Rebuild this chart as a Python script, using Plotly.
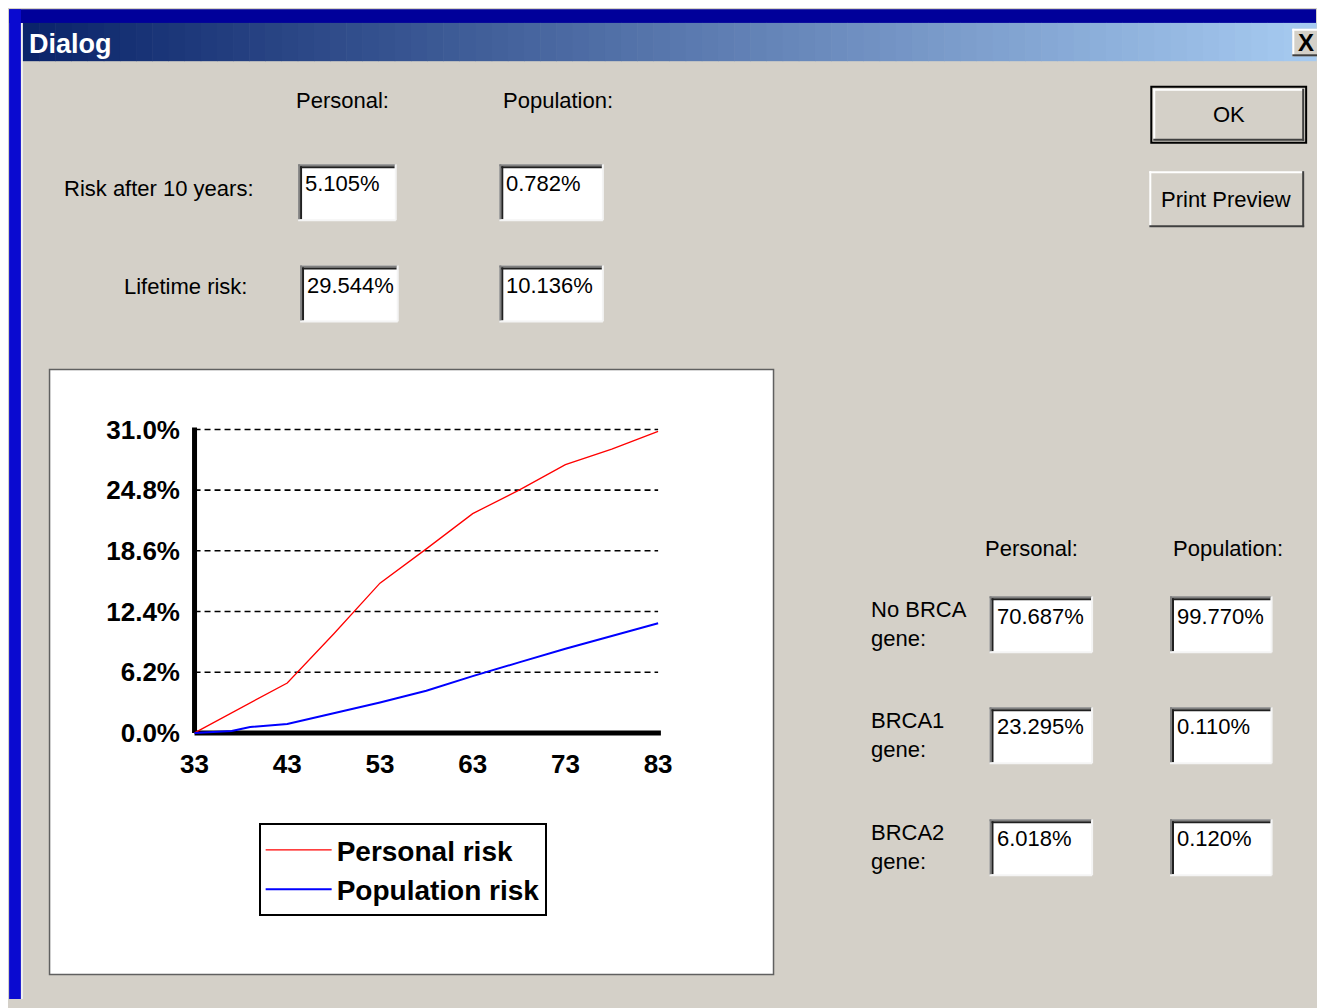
import plotly.graph_objects as go

# ---------------- data ----------------
ages_personal = [33, 43, 48, 53, 58, 63, 68, 73, 78, 83]
personal_risk = [0.0, 5.1, 10.1, 15.3, 18.8, 22.4, 24.8, 27.4, 29.0, 30.8]

ages_population = [33, 37, 39, 43, 48, 53, 58, 63, 68, 73, 78, 83]
population_risk = [0.0, 0.2, 0.6, 0.9, 2.0, 3.1, 4.3, 5.8, 7.2, 8.6, 9.9, 11.2]

x_ticks = [33, 43, 53, 63, 73, 83]
y_ticks = [0.0, 6.2, 12.4, 18.6, 24.8, 31.0]
y_tick_labels = ["0.0%", "6.2%", "12.4%", "18.6%", "24.8%", "31.0%"]

series_names = ["Personal risk", "Population risk"]
series_colors = ["#ff0000", "#0000ff"]

summary_headers = ["Personal:", "Population:"]
summary_rows = ["Risk after 10 years:", "Lifetime risk:"]
summary_personal = ["5.105%", "29.544%"]
summary_population = ["0.782%", "10.136%"]

gene_headers = ["Personal:", "Population:"]
gene_rows = ["No BRCA<br>gene:", "BRCA1<br>gene:", "BRCA2<br>gene:"]
gene_personal = ["70.687%", "23.295%", "6.018%"]
gene_population = ["99.770%", "0.110%", "0.120%"]

button_labels = ["OK", "Print Preview"]
window_title = "Dialog"

# ---------------- helpers ----------------
# The page body keeps the browser's default 8px margin, so the figure starts
# 8px in and fills the rest of the 1325x1008 window.
PAGE_W, PAGE_H = 1325, 1008
OFF = 8
W, H = PAGE_W - OFF, PAGE_H - OFF
FACE = "#d4d0c8"
SANS = "Liberation Sans, Arial, sans-serif"


def px(x):
    return (x - OFF) / W


def py(y):
    return 1 - (y - OFF) / H


shapes = []
annotations = []


def rect(x0, y0, x1, y1, fill, line=None, lw=0):
    shapes.append(dict(type="rect", xref="paper", yref="paper",
                       x0=px(x0), x1=px(x1), y0=py(y1), y1=py(y0),
                       fillcolor=fill, line=dict(color=line or fill, width=lw),
                       layer="below"))


def seg(x0, y0, x1, y1, color, w):
    shapes.append(dict(type="line", xref="paper", yref="paper",
                       x0=px(x0), x1=px(x1), y0=py(y0), y1=py(y1),
                       line=dict(color=color, width=w), layer="below"))


def text(t, x, y, size=22, anchor="left", family=SANS, color="black", weight="normal"):
    annotations.append(dict(text=t, x=px(x), y=py(y), xref="paper", yref="paper",
                            xanchor=anchor, yanchor="middle", showarrow=False,
                            align="left",
                            font=dict(family=family, size=size, color=color, weight=weight)))


def sunken(x0, y0, x1, y1):
    rect(x0, y0, x1, y1, "white")
    seg(x0, y0 + 1, x1, y0 + 1, "#808080", 2)
    seg(x0 + 1, y0, x0 + 1, y1, "#808080", 2)
    seg(x0 + 2, y0 + 3, x1 - 1, y0 + 3, "#202020", 2)
    seg(x0 + 3, y0 + 2, x0 + 3, y1 - 1, "#202020", 2)
    seg(x0, y1, x1, y1, "#f4f4f4", 2)
    seg(x1, y0, x1, y1, "#f4f4f4", 2)


def raised(x0, y0, x1, y1, default=False):
    rect(x0, y0, x1, y1, FACE)
    if default:
        rect(x0, y0, x1, y1, FACE, "#000000", 2)
        x0, y0, x1, y1 = x0 + 2, y0 + 2, x1 - 2, y1 - 2
    seg(x0, y0 + 1, x1, y0 + 1, "white", 2)
    seg(x0 + 1, y0, x0 + 1, y1, "white", 2)
    seg(x0, y1 - 1, x1, y1 - 1, "#404040", 2)
    seg(x1 - 1, y0, x1 - 1, y1, "#404040", 2)


# ---------------- window chrome ----------------
rect(0, 0, PAGE_W, 14, "#00009a")
rect(0, 0, 12, PAGE_H, "#0a0ad0")
seg(13, 14, 13, PAGE_H, "#f0f0f0", 2)

n_strips = 80
c0 = (10, 36, 106)
c1 = (166, 202, 240)
x_start, x_end = 14, PAGE_W
for i in range(n_strips):
    t = i / (n_strips - 1)
    c = tuple(int(round(c0[k] + (c1[k] - c0[k]) * t)) for k in range(3))
    xa = x_start + (x_end - x_start) * i / n_strips
    xb = x_start + (x_end - x_start) * (i + 1) / n_strips + 0.6
    rect(xa, 14, xb, 53, "rgb(%d,%d,%d)" % c)
text(window_title, 18, 35, size=27, color="white", weight="bold")

raised(1301, 20, 1330, 48)
text("X", 1315, 34, size=24, anchor="center", weight="bold")

# ---------------- top summary ----------------
text(summary_headers[0], 338, 93, anchor="center")
text(summary_headers[1], 556, 93, anchor="center")
row_y = [183, 282]
box_y = [(158, 215), (261, 318)]
pers_x = [(293, 392), (295, 394)]
pop_x = [(497, 602), (497, 602)]
label_right = [250, 243]
for i, lab in enumerate(summary_rows):
    text(lab, label_right[i], row_y[i], anchor="right")
    sunken(pers_x[i][0], box_y[i][0], pers_x[i][1], box_y[i][1])
    sunken(pop_x[i][0], box_y[i][0], pop_x[i][1], box_y[i][1])
    text(summary_personal[i], pers_x[i][0] + 5, box_y[i][0] + 20)
    text(summary_population[i], pop_x[i][0] + 5, box_y[i][0] + 20)

raised(1158, 79, 1315, 136, default=True)
text(button_labels[0], 1237, 107, anchor="center")
raised(1156, 165, 1313, 222)
text(button_labels[1], 1234, 194, anchor="center")

# ---------------- gene panel ----------------
text(gene_headers[0], 1037, 549, anchor="center")
text(gene_headers[1], 1236, 549, anchor="center")
gene_box_y = [(598, 655), (711, 768), (825, 882)]
for i, lab in enumerate(gene_rows):
    y0, y1 = gene_box_y[i]
    text(lab, 872, y0 + 28)
    sunken(994, y0, 1098, y1)
    sunken(1177, y0, 1280, y1)
    text(gene_personal[i], 1000, y0 + 20)
    text(gene_population[i], 1182, y0 + 20)

# ---------------- chart panel ----------------
rect(41, 367, 775, 983, "white", "#606060", 1.5)

X_LEFT, X_RIGHT = 188.0, 658.0      # pixel of age 33 / 83
Y_ZERO, Y_TOP = 737.0, 428.0        # pixel of 0% / 31%
x_pad, y_pad = 0.6, 0.6
xr = [x_ticks[0] - x_pad, x_ticks[-1] + x_pad]
yr = [y_ticks[0] - y_pad, y_ticks[-1] + y_pad]
ppx = (X_RIGHT - X_LEFT) / (x_ticks[-1] - x_ticks[0])
ppy = (Y_ZERO - Y_TOP) / (y_ticks[-1] - y_ticks[0])
dom_x = [px(X_LEFT - x_pad * ppx), px(X_RIGHT + x_pad * ppx)]
dom_y = [py(Y_ZERO + y_pad * ppy), py(Y_TOP - y_pad * ppy)]

# dashed grid and thick axes through the data axes
for v in y_ticks[1:]:
    shapes.append(dict(type="line", xref="x", yref="y", x0=x_ticks[0], x1=x_ticks[-1],
                       y0=v, y1=v, line=dict(color="black", width=1.6, dash="6px,4px"),
                       layer="between"))
shapes.append(dict(type="line", xref="x", yref="y", x0=x_ticks[0], x1=x_ticks[-1] + 0.3,
                   y0=0, y1=0, line=dict(color="black", width=5), layer="between"))
shapes.append(dict(type="line", xref="x", yref="y", x0=x_ticks[0], x1=x_ticks[0],
                   y0=0, y1=y_ticks[-1] + 0.2, line=dict(color="black", width=5),
                   layer="between"))

fig = go.Figure()
fig.add_trace(go.Scatter(x=ages_personal, y=personal_risk, mode="lines",
                         name=series_names[0],
                         line=dict(color=series_colors[0], width=1.3)))
fig.add_trace(go.Scatter(x=ages_population, y=population_risk, mode="lines",
                         name=series_names[1],
                         line=dict(color=series_colors[1], width=2)))

tickfont = dict(family=SANS, size=26, color="black", weight="bold")
fig.update_layout(
    width=W, height=H, autosize=False,
    margin=dict(l=0, r=0, t=0, b=0),
    paper_bgcolor=FACE, plot_bgcolor="white",
    shapes=shapes, annotations=annotations,
    showlegend=True,
    legend=dict(x=px(253), y=py(829), xanchor="left", yanchor="top",
                bgcolor="white", bordercolor="black", borderwidth=2,
                font=dict(family=SANS, size=28, color="black", weight="bold"),
                itemwidth=66, tracegroupgap=0),
    xaxis=dict(domain=dom_x, range=xr, tickvals=x_ticks, showgrid=False,
               zeroline=False, showline=False, ticks="", tickfont=tickfont,
               ticklabelstandoff=7, fixedrange=True),
    yaxis=dict(domain=dom_y, range=yr, tickvals=y_ticks, ticktext=y_tick_labels,
               showgrid=False, zeroline=False, showline=False,
               ticks="", tickfont=tickfont, ticklabelstandoff=8, fixedrange=True),
)

fig.write_html("out.html", config={"displayModeBar": False})
